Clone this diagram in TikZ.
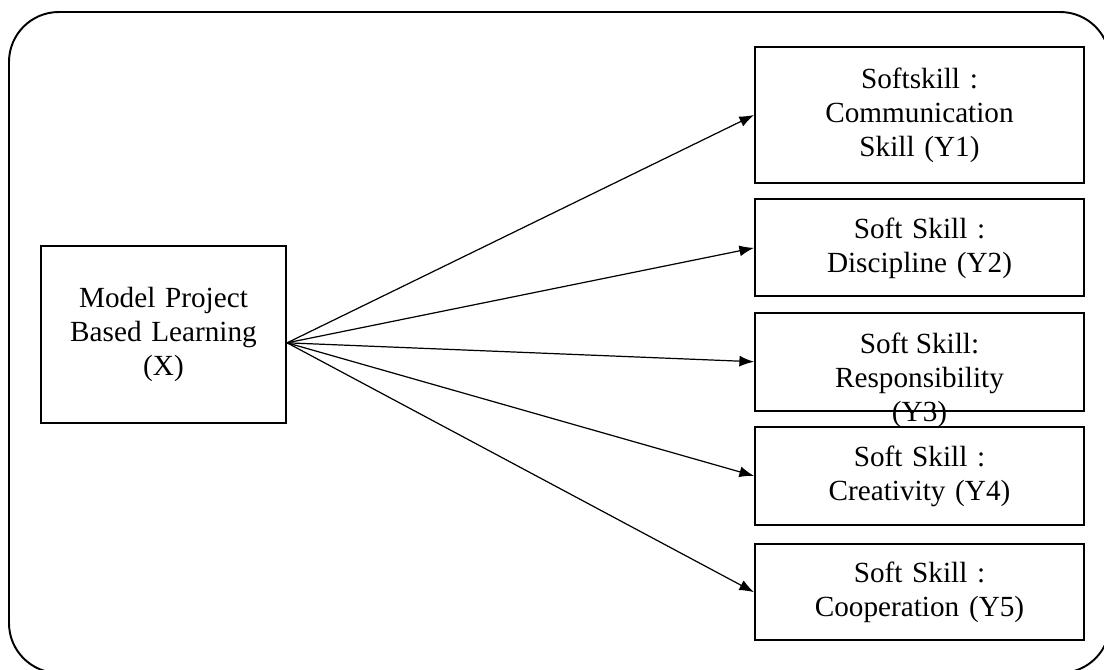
\documentclass[tikz,border=0pt]{standalone}
\usepackage{fontspec}
\setmainfont{Liberation Serif}
\usetikzlibrary{arrows.meta}
\usetikzlibrary{positioning}
\tikzstyle{varbox} = [rectangle, draw=black, line width=0.8pt, minimum width=4.75cm, text centered, text width=4.5cm, inner sep=0pt, font=\fontsize{12}{14}\selectfont]
\tikzstyle{link} = [-{Latex[length=6pt,width=4.5pt]}, line width=0.5pt]

\begin{document}
\begin{tikzpicture}[x=0.01443cm, y=-0.01443cm, node distance=0.21cm]
\useasboundingbox (0,0) rectangle (1104,669);
\draw[line width=0.8pt, rounded corners=0.72cm] (9,12) rectangle (1110,673);

\node (model) [varbox, minimum width=3.54cm, minimum height=2.55cm, text width=3.3cm] at (163.5,334.5) {Model Project\\Based Learning\\(X)};

\node (y1) [varbox, minimum height=1.96cm] at (919.5,115) {Softskill :\\Communication\\Skill (Y1)};
\node (y2) [varbox, minimum height=1.40cm, below=of y1] {Soft Skill :\\Discipline (Y2)};
\node (y3) [varbox, minimum height=1.41cm, below=of y2] {};
\node (y3text) [anchor=north, inner sep=0pt, align=center, font=\fontsize{12}{14}\selectfont] at ([yshift=-0.30cm]y3.north) {Soft Skill:\\Responsibility\\(Y3)};
\node (y4) [varbox, minimum height=1.41cm, below=of y3] {Soft Skill :\\Creativity (Y4)};
\node (y5) [varbox, minimum height=1.39cm, below=0.25cm of y4] {Soft Skill :\\Cooperation (Y5)};

\coordinate (src) at ([yshift=-0.12cm]model.east);
\foreach \n in {y1,y2,y3,y4,y5}
  \draw[link] (src) -- (\n.west);
\end{tikzpicture}
\end{document}
